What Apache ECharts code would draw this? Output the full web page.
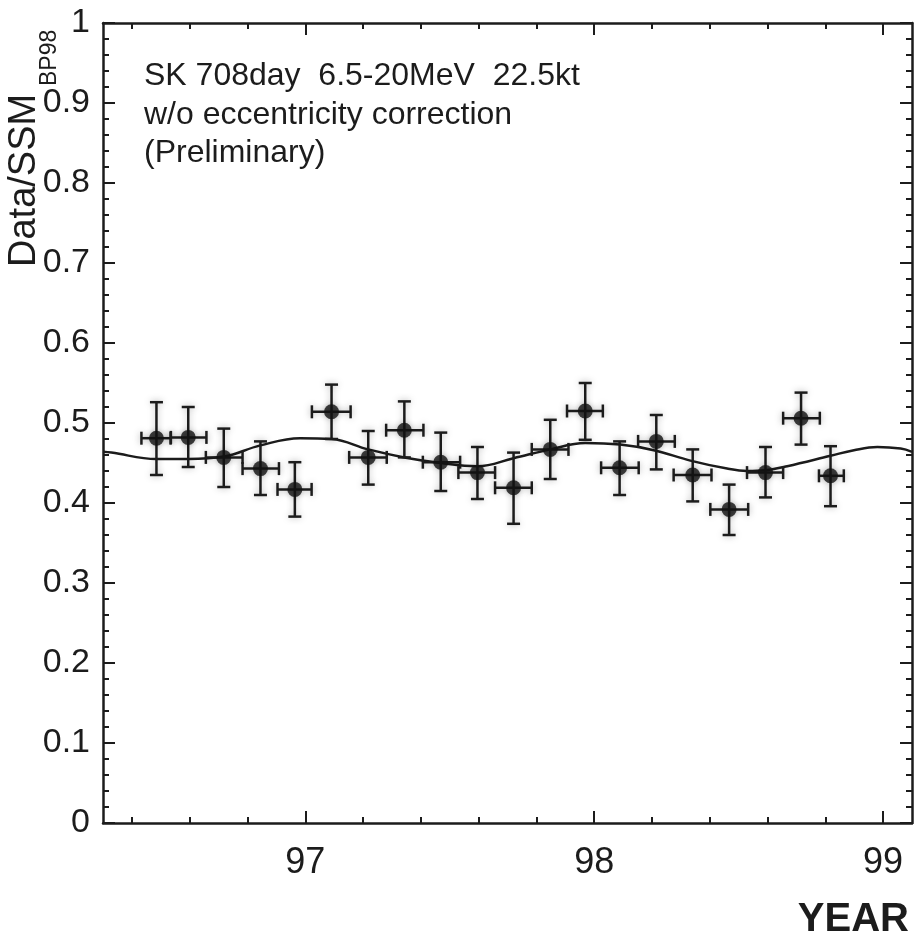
<!DOCTYPE html>
<html>
<head>
<meta charset="utf-8">
<script src="https://cdn.jsdelivr.net/npm/echarts@6/dist/echarts.min.js"></script>
<style>
html,body{margin:0;padding:0;background:#fff;}
#c{width:922px;height:943px;}
</style>
</head>
<body>
<div id="c"></div>
<script>
// ---- data ----
var binYear = [96.485,96.595,96.718,96.845,96.964,97.091,97.218,97.343,97.469,97.596,97.721,97.848,97.969,98.088,98.215,98.341,98.467,98.593,98.716,98.818];
var binLow  = [96.433,96.535,96.656,96.783,96.904,97.023,97.152,97.280,97.407,97.530,97.657,97.784,97.906,98.024,98.152,98.275,98.402,98.529,98.654,98.778];
var binHigh = [96.534,96.658,96.783,96.909,97.022,97.157,97.282,97.409,97.536,97.657,97.784,97.911,98.030,98.154,98.279,98.406,98.533,98.654,98.781,98.864];
var ratio   = [0.481,0.482,0.457,0.443,0.417,0.514,0.457,0.491,0.451,0.438,0.419,0.467,0.515,0.444,0.477,0.435,0.392,0.438,0.506,0.434];
var errTop  = [0.526,0.520,0.493,0.477,0.451,0.548,0.490,0.527,0.488,0.470,0.463,0.504,0.550,0.477,0.510,0.467,0.423,0.470,0.538,0.471];
var errBot  = [0.435,0.445,0.420,0.410,0.383,0.480,0.423,0.457,0.415,0.405,0.374,0.430,0.479,0.410,0.442,0.402,0.360,0.407,0.473,0.396];

var curveX = [96.30,96.329,96.485,96.595,96.718,96.845,96.982,97.091,97.218,97.343,97.469,97.596,97.721,97.848,97.969,98.090,98.206,98.333,98.460,98.529,98.593,98.668,98.818,98.899,98.980,99.061,99.10];
var curveY = [0.464,0.463,0.455,0.455,0.458,0.472,0.481,0.480,0.467,0.457,0.450,0.446,0.456,0.467,0.475,0.473,0.466,0.453,0.443,0.440,0.441,0.446,0.459,0.466,0.470,0.468,0.464];

var xMajorTicks = [97, 98, 99];
var xMinorTicks = [96.4,96.6,96.8,97.2,97.4,97.6,97.8,98.2,98.4,98.6,98.8,99.0];
var xLabels = ['97','98','99'];
var yTickLabels = ['0','0.1','0.2','0.3','0.4','0.5','0.6','0.7','0.8','0.9','1'];

var textLines = ['SK 708day  6.5-20MeV  22.5kt', 'w/o eccentricity correction', '(Preliminary)'];
var yName = 'Data/SSM';
var yNameSub = 'BP98';
var xName = 'YEAR';

// ---- chart ----
var INK = '#1c1c1c';
var FONT = '"Liberation Sans", Arial, Helvetica, sans-serif';

var errData = binYear.map(function (x, i) {
  return [x, ratio[i], binLow[i], binHigh[i], errBot[i], errTop[i]];
});
var pointData = binYear.map(function (x, i) { return [x, ratio[i]]; });
var curveData = curveX.map(function (x, i) { return [x, curveY[i]]; });

function xAxisDef(pos, ticks, len, showLine, showLabel) {
  return {
    type: 'value', min: 96.3, max: 99.1, position: pos,
    axisLine: { show: showLine, onZero: false, lineStyle: { color: INK, width: 2.5 } },
    axisTick: { show: true, inside: true, length: len, customValues: ticks, lineStyle: { color: INK, width: 2 } },
    axisLabel: showLabel ? {
      show: true, customValues: xMajorTicks, margin: 22,
      fontSize: 36, color: INK, fontFamily: FONT,
      formatter: function (v) { var k = xMajorTicks.indexOf(Math.round(v)); return k >= 0 ? xLabels[k] : ''; }
    } : { show: false },
    splitLine: { show: false }
  };
}
function yAxisDef(pos, showLabel) {
  return {
    type: 'value', min: 0, max: 1, interval: 0.1, position: pos,
    axisLine: { show: true, onZero: false, lineStyle: { color: INK, width: 2.5 } },
    axisTick: { show: true, inside: true, length: 12, lineStyle: { color: INK, width: 2 } },
    minorTick: { show: true, splitNumber: 5, length: 6, lineStyle: { color: INK, width: 2 } },
    axisLabel: showLabel ? {
      show: true, margin: 13, fontSize: 34, color: INK, fontFamily: FONT,
      formatter: function (v) { return yTickLabels[Math.round(v * 10)]; }
    } : { show: false },
    splitLine: { show: false }, minorSplitLine: { show: false }
  };
}

var chart = echarts.init(document.getElementById('c'), null, { renderer: 'canvas' });
chart.setOption({
  backgroundColor: '#ffffff',
  animation: false,
  grid: { left: 103, right: 10, top: 23, bottom: 120, containLabel: false },
  xAxis: [
    xAxisDef('bottom', xMajorTicks, 12, true, true),
    xAxisDef('bottom', xMinorTicks, 6, false, false),
    xAxisDef('top', xMajorTicks, 12, true, false),
    xAxisDef('top', xMinorTicks, 6, false, false)
  ],
  yAxis: [ yAxisDef('left', true), yAxisDef('right', false) ],
  graphic: [
    {
      type: 'text', left: 144, top: 57,
      style: { text: textLines.join('\n'), fontSize: 32, lineHeight: 38.5, fill: INK, fontFamily: FONT }
    },
    {
      type: 'text', x: 25, y: 267, rotation: Math.PI / 2,
      style: { text: yName, fontSize: 38, fill: INK, fontFamily: FONT, textAlign: 'left', textVerticalAlign: 'middle' }
    },
    {
      type: 'text', x: 50, y: 86, rotation: Math.PI / 2,
      style: { text: yNameSub, fontSize: 23, fill: INK, fontFamily: FONT, textAlign: 'left', textVerticalAlign: 'middle' }
    },
    {
      type: 'text', right: 13, top: 900,
      style: { text: xName, fontSize: 40, fontWeight: 'bold', fill: INK, fontFamily: FONT }
    }
  ],
  series: [
    {
      type: 'line', xAxisIndex: 0, yAxisIndex: 0, data: curveData,
      smooth: 0.4, showSymbol: false, symbol: 'none',
      lineStyle: { color: INK, width: 2.5 }, z: 2
    },
    {
      type: 'custom', xAxisIndex: 0, yAxisIndex: 0, data: errData, z: 3,
      renderItem: function (params, api) {
        var c = api.coord([api.value(0), api.value(1)]);
        var l = api.coord([api.value(2), api.value(1)]);
        var r = api.coord([api.value(3), api.value(1)]);
        var b = api.coord([api.value(0), api.value(4)]);
        var t = api.coord([api.value(0), api.value(5)]);
        var cap = 6.5;
        var st = { stroke: INK, lineWidth: 2.5, shadowBlur: 7, shadowColor: 'rgba(0,0,0,0.28)' };
        function seg(x1, y1, x2, y2) { return { type: 'line', shape: { x1: x1, y1: y1, x2: x2, y2: y2 }, style: st }; }
        return {
          type: 'group',
          children: [
            seg(l[0], c[1], r[0], c[1]),
            seg(c[0], t[1], c[0], b[1]),
            seg(l[0], c[1] - cap, l[0], c[1] + cap),
            seg(r[0], c[1] - cap, r[0], c[1] + cap),
            seg(c[0] - cap, t[1], c[0] + cap, t[1]),
            seg(c[0] - cap, b[1], c[0] + cap, b[1])
          ]
        };
      }
    },
    {
      type: 'scatter', xAxisIndex: 0, yAxisIndex: 0, data: pointData, z: 4,
      symbol: 'circle', symbolSize: 15,
      itemStyle: { color: '#111', shadowBlur: 6, shadowColor: 'rgba(0,0,0,0.3)' }
    }
  ]
});
</script>
</body>
</html>
